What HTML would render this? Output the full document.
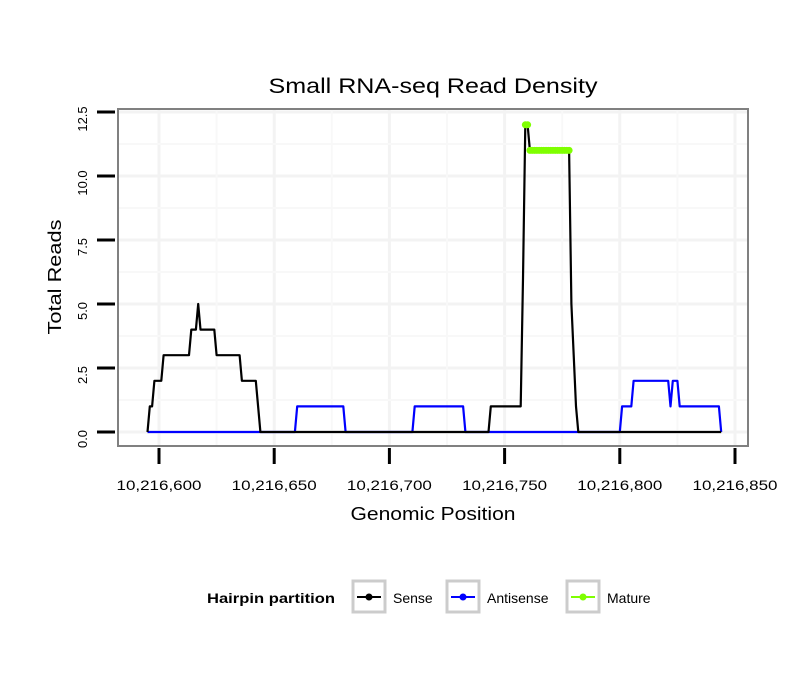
<!DOCTYPE html>
<html><head><meta charset="utf-8"><style>
body{margin:0;background:#fff;}
svg text{font-family:"Liberation Sans",sans-serif;}
</style></head><body>
<svg id="chart" width="810" height="690" xmlns="http://www.w3.org/2000/svg">
<rect width="810" height="690" fill="#fff"/>
<text x="433" y="93" font-size="21" text-anchor="middle" textLength="329" lengthAdjust="spacingAndGlyphs">Small RNA-seq Read Density</text>
<g id="grid"></g>
<g id="series"></g>
<rect x="118" y="109" width="630" height="337" fill="none" stroke="#808080" stroke-width="2"/>
<g id="axes"></g>
<text x="433" y="520" font-size="18" text-anchor="middle" textLength="165" lengthAdjust="spacingAndGlyphs">Genomic Position</text>
<text transform="translate(61,277) rotate(-90)" font-size="18" text-anchor="middle" textLength="115" lengthAdjust="spacingAndGlyphs">Total Reads</text>
<g>
<text x="207" y="603" font-size="14" font-weight="bold" textLength="128" lengthAdjust="spacingAndGlyphs">Hairpin partition</text>
<g>
<rect x="353" y="581" width="32" height="31" fill="#fff" stroke="#cccccc" stroke-width="3"/>
<line x1="357" y1="597" x2="381" y2="597" stroke="#000" stroke-width="2"/><circle cx="369" cy="597" r="3.5" fill="#000"/>
<text x="393" y="603" font-size="14">Sense</text></g>
<g>
<rect x="447" y="581" width="32" height="31" fill="#fff" stroke="#cccccc" stroke-width="3"/>
<line x1="451" y1="597" x2="475" y2="597" stroke="#0000ff" stroke-width="2"/><circle cx="463" cy="597" r="3.5" fill="#0000ff"/>
<text x="487" y="603" font-size="14">Antisense</text></g>
<g>
<rect x="567" y="581" width="32" height="31" fill="#fff" stroke="#cccccc" stroke-width="3"/>
<line x1="571" y1="597" x2="595" y2="597" stroke="#7fff00" stroke-width="2"/><circle cx="583" cy="597" r="3.5" fill="#7fff00"/>
<text x="607" y="603" font-size="14">Mature</text></g>
</g>
</svg>
<script>
const sensePositions = [10216595,10216596,10216597,10216598,10216601,10216602,10216613,10216614,10216616,10216617,10216618,10216624,10216625,10216635,10216636,10216642,10216643,10216644,10216743,10216744,10216757,10216758,10216759,10216760,10216761,10216778,10216779,10216780,10216781,10216782,10216844];
const senseValues = [0,1,1,2,2,3,3,4,4,5,4,4,3,3,2,2,1,0,0,1,1,6,12,12,11,11,5,3,1,0,0];
const antisensePositions = [10216595,10216659,10216660,10216680,10216681,10216710,10216711,10216732,10216733,10216800,10216801,10216805,10216806,10216821,10216822,10216823,10216825,10216826,10216843,10216844];
const antisenseValues = [0,0,1,1,0,0,1,1,0,0,1,1,2,2,1,2,2,1,1,0];
const maturePositions = [10216759,10216760,10216761,10216762,10216763,10216764,10216765,10216766,10216767,10216768,10216769,10216770,10216771,10216772,10216773,10216774,10216775,10216776,10216777,10216778];
const matureValues = [12,12,11,11,11,11,11,11,11,11,11,11,11,11,11,11,11,11,11,11];
const xTicks = [10216600,10216650,10216700,10216750,10216800,10216850];
const xTickLabels = ["10,216,600","10,216,650","10,216,700","10,216,750","10,216,800","10,216,850"];
const yTicks = [0,2.5,5,7.5,10,12.5];
const yTickLabels = ["0.0","2.5","5.0","7.5","10.0","12.5"];

const NS='http://www.w3.org/2000/svg';
const xs = p => 159 + (p - 10216600) * 2.304;
const ys = v => 432 - v * 25.6;
function mk(tag, attrs, parent){const e=document.createElementNS(NS,tag);for(const k in attrs)e.setAttribute(k,attrs[k]);parent.appendChild(e);return e;}
const grid=document.getElementById('grid'), axes=document.getElementById('axes'), series=document.getElementById('series');
for(let i=0;i<xTicks.length;i++){
  const gx=mk('line',{x1:xs(xTicks[i]),x2:xs(xTicks[i]),y1:109,y2:446,stroke:'#f3f3f3','stroke-width':3},grid);
  
  
}
for(let i=0;i<yTicks.length;i++){
  const gy=mk('line',{x1:118,x2:748,y1:ys(yTicks[i]),y2:ys(yTicks[i]),stroke:'#f3f3f3','stroke-width':3},grid);
  
  
  if(i<yTicks.length-1){
    const gm=mk('line',{x1:118,x2:748,y1:ys((yTicks[i]+yTicks[i+1])/2),y2:ys((yTicks[i]+yTicks[i+1])/2),stroke:'#f8f8f8','stroke-width':2},grid);
    
    
  }
}
for(let i=0;i<xTicks.length-1;i++){
  const mx=(xTicks[i]+xTicks[i+1])/2;
  const gm=mk('line',{x1:xs(mx),x2:xs(mx),y1:109,y2:446,stroke:'#f8f8f8','stroke-width':2},grid);
  
  
}
for(let i=0;i<xTicks.length;i++){
  const t=mk('line',{x1:xs(xTicks[i]),x2:xs(xTicks[i]),y1:448,y2:464,stroke:'#000','stroke-width':3},axes);
  
  
  const l=mk('text',{x:xs(xTicks[i]),y:490,'font-size':14,'text-anchor':'middle',textLength:85,lengthAdjust:'spacingAndGlyphs'},axes);
  l.textContent=xTickLabels[i];
  
  
}
for(let i=0;i<yTicks.length;i++){
  const t=mk('line',{x1:97,x2:115,y1:ys(yTicks[i]),y2:ys(yTicks[i]),stroke:'#000','stroke-width':3},axes);
  
  
  const l=mk('text',{transform:`translate(87,${ys(yTicks[i])+7}) rotate(-90)`,'font-size':13,'text-anchor':'middle'},axes);
  l.textContent=yTickLabels[i];
  
  
}
function pts(ps,vals){return vals.map((v,i)=>xs(ps[i]).toFixed(1)+','+ys(v).toFixed(1)).join(' ');}
const a=mk('polyline',{points:pts(antisensePositions,antisenseValues),fill:'none',stroke:'#0000ff','stroke-width':2.2,'stroke-linejoin':'round'},series);


const s=mk('polyline',{points:pts(sensePositions,senseValues),fill:'none',stroke:'#000','stroke-width':2.2,'stroke-linejoin':'round'},series);


for(let i=0;i<maturePositions.length;i++){
  const c=mk('circle',{cx:xs(maturePositions[i]),cy:ys(matureValues[i]),r:3.5,fill:'#7fff00'},series);
  
  
}
</script>
</body></html>
